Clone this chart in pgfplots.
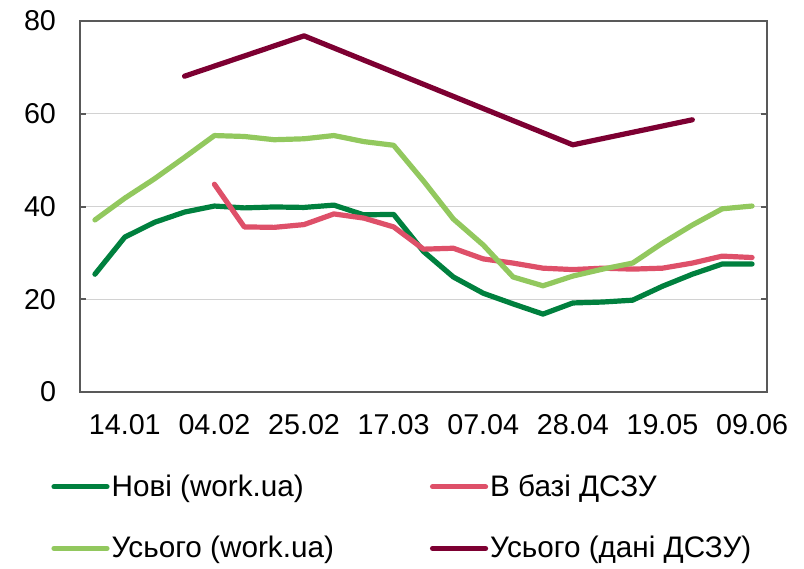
\documentclass[border=0pt]{standalone}
\usepackage{fontspec}
\setmainfont{Liberation Sans}
\usepackage{pgfplots}
\pgfplotsset{compat=1.18}

\definecolor{novi}{RGB}{0,128,62}
\definecolor{dszu}{RGB}{222,80,105}
\definecolor{usogo}{RGB}{146,200,94}
\definecolor{dani}{RGB}{125,0,50}
\definecolor{framegray}{RGB}{89,89,89}

\begin{document}
\begin{tikzpicture}
\useasboundingbox (-40bp,-88.5bp) rectangle (362bp,196bp);
\begin{axis}[
    at={(0,0)}, anchor=south west,
    width=343.5bp, height=185.5bp, scale only axis,
    xmin=-0.5, xmax=22.5, ymin=0, ymax=80,
    xtick={1,4,7,10,13,16,19,22},
    xticklabels={14.01,04.02,25.02,17.03,07.04,28.04,19.05,09.06},
    ytick={0,20,40,60,80},
    /pgf/number format/assume math mode=true,
    x tick style={draw=none},
    y tick style={framegray, line width=1bp},
    tick align=inside, major tick length=3bp,
    ymajorgrids, grid style={gray!35, line width=0.6bp},
    axis line style={framegray, line width=1.2bp},
    tick label style={font=\fontsize{14.4}{16}\selectfont, black},
    yticklabel style={xshift=-8.5bp},
    xticklabel style={yshift=-7.5bp},
    legend columns=2,
    legend cell align=left,
    legend image code/.code={\draw[#1] (0bp,0bp) -- (26.5bp,0bp);},
    legend style={draw=none, fill=none, inner sep=0pt,
        at={(axis description cs:0,0)}, anchor=north west,
        xshift=-14.5bp, yshift=-40bp,
        font=\fontsize{14.9}{17}\selectfont,
        row sep=16.5bp,
        nodes={inner sep=1bp},
        /tikz/every even column/.append style={column sep=47bp}},
    every axis plot/.append style={line width=2.6bp, line cap=round, line join=round},
]

% Нові (work.ua)
\addplot[novi] coordinates {
    (0,25.4) (1,33.4) (2,36.6) (3,38.8) (4,40.1) (5,39.7) (6,39.9) (7,39.8)
    (8,40.3) (9,38.2) (10,38.3) (11,30.3) (12,24.8) (13,21.3) (14,19.0) (15,16.8)
    (16,19.2) (17,19.4) (18,19.8) (19,22.8) (20,25.4) (21,27.6) (22,27.6)
};
\addlegendentry{Нові (work.ua)}

% В базі ДСЗУ
\addplot[dszu] coordinates {
    (4,44.8) (5,35.6) (6,35.5) (7,36.1) (8,38.4) (9,37.5) (10,35.6) (11,30.8)
    (12,31.0) (13,28.7) (14,27.8) (15,26.7) (16,26.4) (17,26.7) (18,26.5)
    (19,26.7) (20,27.8) (21,29.3) (22,29.0)
};
\addlegendentry{В базі ДСЗУ}

% Усього (work.ua)
\addplot[usogo] coordinates {
    (0,37.1) (1,41.8) (2,46.0) (3,50.6) (4,55.3) (5,55.1) (6,54.4) (7,54.6)
    (8,55.3) (9,54.0) (10,53.2) (11,45.5) (12,37.3) (13,31.7) (14,24.8) (15,22.9)
    (16,25.0) (17,26.5) (18,27.8) (19,32.1) (20,36.0) (21,39.5) (22,40.1)
};
\addlegendentry{Усього (work.ua)}

% Усього (дані ДСЗУ)
\addplot[dani] coordinates {
    (3,68.1) (7,76.8) (16,53.3) (20,58.7)
};
\addlegendentry{Усього (дані ДСЗУ)}

\end{axis}
\end{tikzpicture}
\end{document}
